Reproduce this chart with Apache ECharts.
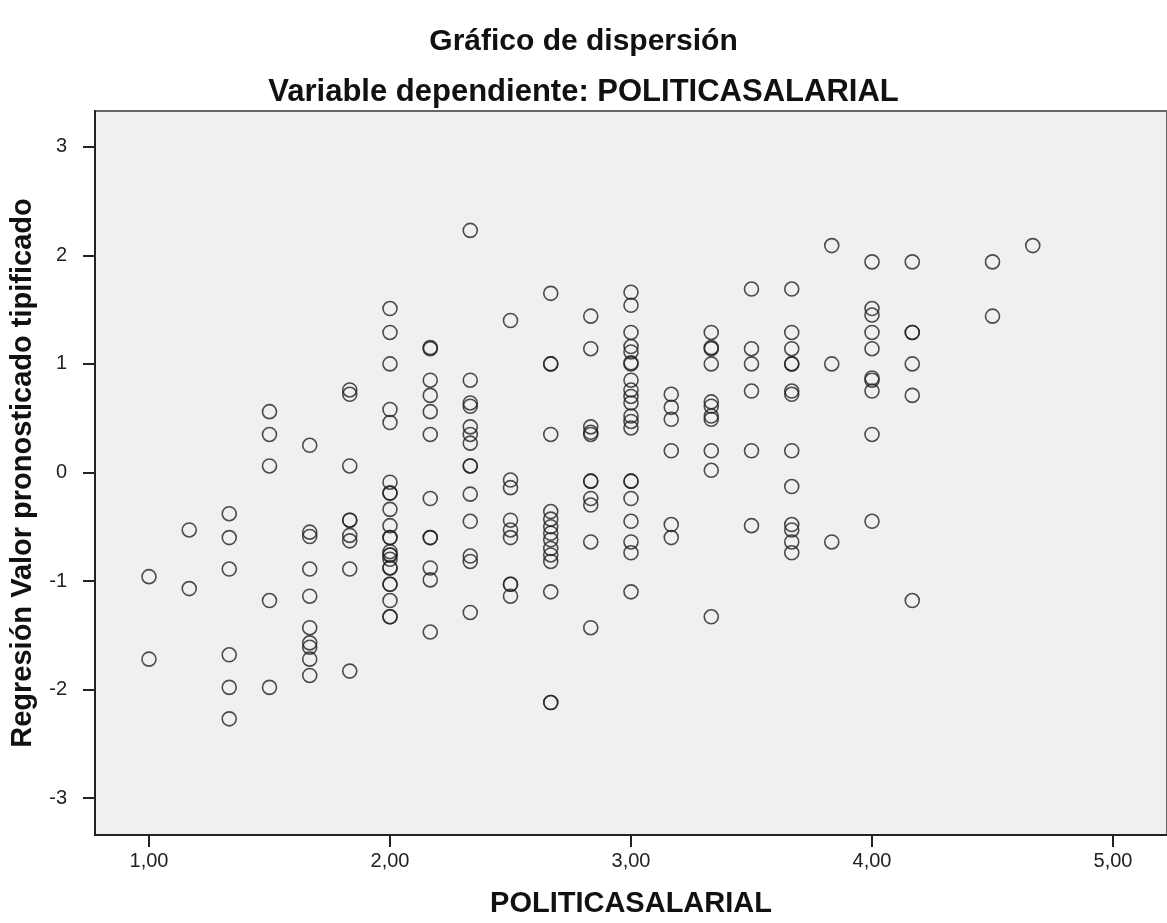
<!DOCTYPE html>
<html>
<head>
<meta charset="utf-8">
<script src="https://cdn.jsdelivr.net/npm/echarts@6/dist/echarts.min.js"></script>
<style>
  html, body { margin: 0; padding: 0; background: #ffffff; }
  #chart { width: 1167px; height: 923px; }
</style>
</head>
<body>
<div id="chart"></div>
<script>
// X positions of the discrete POLITICASALARIAL values
const xValues = [1.000, 1.167, 1.333, 1.500, 1.667, 1.833, 2.000, 2.167, 2.333, 2.500, 2.667,
                 2.833, 3.000, 3.167, 3.333, 3.500, 3.667, 3.833, 4.000, 4.167, 4.500, 4.667];

// Standardized predicted values read for each x column
const y_1_000 = [-0.96, -1.72];
const y_1_167 = [-0.53, -1.07];
const y_1_333 = [-0.38, -0.60, -0.89, -1.68, -1.98, -2.27];
const y_1_500 = [0.56, 0.35, 0.06, -1.18, -1.98];
const y_1_667 = [0.25, -0.55, -0.59, -0.89, -1.14, -1.43, -1.57, -1.61, -1.72, -1.87];
const y_1_833 = [0.76, 0.72, 0.06, -0.44, -0.44, -0.58, -0.63, -0.89, -1.83];
const y_2_000 = [1.51, 1.29, 1.00, 0.58, 0.46, -0.09, -0.19, -0.19, -0.34, -0.49, -0.60, -0.60,
                 -0.73, -0.76, -0.76, -0.80, -0.88, -0.88, -1.03, -1.03, -1.18, -1.33, -1.33];
const y_2_167 = [1.15, 1.14, 0.85, 0.71, 0.56, 0.35, -0.24, -0.60, -0.60, -0.88, -0.99, -1.47];
const y_2_333 = [2.23, 0.85, 0.64, 0.61, 0.42, 0.35, 0.27, 0.06, 0.06, -0.20, -0.45, -0.77, -0.82, -1.29];
const y_2_500 = [1.40, -0.07, -0.14, -0.44, -0.53, -0.60, -1.03, -1.03, -1.14];
const y_2_667 = [1.65, 1.00, 1.00, 0.35, -0.36, -0.43, -0.50, -0.56, -0.62, -0.70, -0.76, -0.82, -1.10, -2.12, -2.12];
const y_2_833 = [1.44, 1.14, 0.42, 0.37, 0.35, -0.08, -0.08, -0.24, -0.30, -0.64, -1.43];
const y_3_000 = [1.66, 1.54, 1.29, 1.16, 1.11, 1.01, 1.00, 0.85, 0.76, 0.70, 0.64, 0.52, 0.47, 0.41,
                 -0.08, -0.08, -0.24, -0.45, -0.64, -0.74, -1.10];
const y_3_167 = [0.72, 0.60, 0.49, 0.20, -0.48, -0.60];
const y_3_333 = [1.29, 1.15, 1.14, 1.00, 0.65, 0.61, 0.52, 0.49, 0.20, 0.02, -1.33];
const y_3_500 = [1.69, 1.14, 1.00, 0.75, 0.20, -0.49];
const y_3_667 = [1.69, 1.29, 1.14, 1.00, 1.00, 0.75, 0.72, 0.20, -0.13, -0.48, -0.53, -0.64, -0.74];
const y_3_833 = [2.09, 1.00, -0.64];
const y_4_000 = [1.94, 1.51, 1.45, 1.29, 1.14, 0.87, 0.85, 0.75, 0.35, -0.45];
const y_4_167 = [1.94, 1.29, 1.29, 1.00, 0.71, -1.18];
const y_4_500 = [1.94, 1.44];
const y_4_667 = [2.09];

const yColumns = [y_1_000, y_1_167, y_1_333, y_1_500, y_1_667, y_1_833, y_2_000, y_2_167, y_2_333,
                  y_2_500, y_2_667, y_2_833, y_3_000, y_3_167, y_3_333, y_3_500, y_3_667, y_3_833,
                  y_4_000, y_4_167, y_4_500, y_4_667];

// Tick labels
const xTicks = [1, 2, 3, 4, 5];
const yTicks = [-3, -2, -1, 0, 1, 2, 3];

const titleText = 'Gráfico de dispersión';
const subtitleText = 'Variable dependiente: POLITICASALARIAL';
const xName = 'POLITICASALARIAL';
const yName = 'Regresión Valor pronosticado tipificado';

const points = [];
xValues.forEach((x, i) => yColumns[i].forEach(y => points.push([x, y])));

const FONT = "'Liberation Sans', Arial, sans-serif";

const chart = echarts.init(document.getElementById('chart'), null, { renderer: 'canvas' });
chart.setOption({
  backgroundColor: '#ffffff',
  animation: false,
  title: [
    { text: titleText, left: 'center', top: 22,
      textStyle: { fontFamily: FONT, fontSize: 30, fontWeight: 'bold', color: '#111' } },
    { text: subtitleText, left: 'center', top: 72,
      textStyle: { fontFamily: FONT, fontSize: 31, fontWeight: 'bold', color: '#111' } }
  ],
  grid: {
    left: 92, top: 111, width: 1082, height: 725,
    show: true, backgroundColor: '#f0f0f0', borderColor: '#666', borderWidth: 2,
    containLabel: false
  },
  xAxis: {
    type: 'value', min: 0.776, max: 5.224,
    name: xName, nameLocation: 'middle', nameGap: 54,
    nameTextStyle: { fontFamily: FONT, fontSize: 29, fontWeight: 'bold', color: '#111' },
    axisLine: { show: true, onZero: false, lineStyle: { color: '#222', width: 2 } },
    axisTick: { show: true, length: 12, customValues: xTicks, lineStyle: { color: '#222', width: 2 } },
    axisLabel: { customValues: xTicks, margin: 16, fontFamily: FONT, fontSize: 20, color: '#222',
      formatter: v => v.toFixed(2).replace('.', ',') },
    splitLine: { show: false }
  },
  yAxis: {
    type: 'value', min: -3.34, max: 3.33,
    name: yName, nameLocation: 'middle', nameGap: 58, nameRotate: 90,
    nameTextStyle: { fontFamily: FONT, fontSize: 29, fontWeight: 'bold', color: '#111' },
    axisLine: { show: true, onZero: false, lineStyle: { color: '#222', width: 2 } },
    axisTick: { show: true, length: 12, customValues: yTicks, lineStyle: { color: '#222', width: 2 } },
    axisLabel: { customValues: yTicks, margin: 28, fontFamily: FONT, fontSize: 20, color: '#222' },
    splitLine: { show: false }
  },
  series: [{
    type: 'scatter',
    data: points,
    symbol: 'circle',
    symbolSize: 14,
    itemStyle: { color: 'rgba(0,0,0,0)', borderColor: '#222', borderWidth: 1.6 },
    emphasis: { disabled: true }
  }]
});
</script>
</body>
</html>
